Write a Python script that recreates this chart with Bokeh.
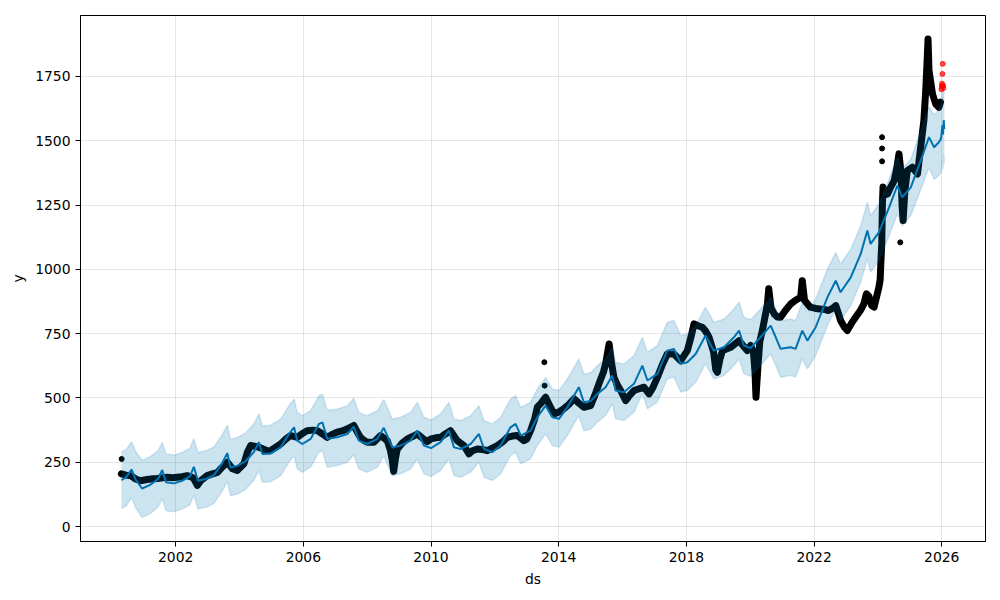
from bokeh.plotting import figure
from bokeh.models import FixedTicker, Range1d
from bokeh.embed import file_html
from bokeh.resources import INLINE

# ---- observed history (decimal year, value) ----
hist_ds = [2000.30, 2000.45, 2000.59, 2000.75, 2000.90, 2001.11, 2001.30, 2001.43, 2001.60, 2001.74,
           2001.90, 2002.05, 2002.20, 2002.36, 2002.55, 2002.68, 2002.80, 2002.99, 2003.15, 2003.31,
           2003.45, 2003.62, 2003.78, 2003.93, 2004.14, 2004.25, 2004.35, 2004.50, 2004.61, 2004.87,
           2004.97, 2005.15, 2005.29, 2005.45, 2005.60, 2005.81, 2005.95, 2006.12, 2006.30, 2006.44,
           2006.60, 2006.75, 2006.90, 2007.06, 2007.22, 2007.38, 2007.58, 2007.70, 2007.79, 2007.90,
           2008.00, 2008.21, 2008.42, 2008.63, 2008.72, 2008.79, 2008.83, 2008.88, 2008.94, 2009.10,
           2009.26, 2009.42, 2009.57, 2009.72, 2009.88, 2010.00, 2010.15, 2010.30, 2010.45, 2010.61,
           2010.82, 2011.03, 2011.19, 2011.30, 2011.45, 2011.60, 2011.76, 2011.92, 2012.08, 2012.25,
           2012.39, 2012.55, 2012.70, 2012.91, 2013.00, 2013.12, 2013.25, 2013.33, 2013.45, 2013.59,
           2013.72, 2013.85, 2014.00, 2014.16, 2014.32, 2014.48, 2014.63, 2014.79, 2015.00, 2015.13,
           2015.26, 2015.40, 2015.47, 2015.55, 2015.58, 2015.65, 2015.73, 2015.84, 2015.94, 2016.10,
           2016.22, 2016.36, 2016.50, 2016.67, 2016.83, 2016.95, 2017.09, 2017.25, 2017.40, 2017.61,
           2017.82, 2018.03, 2018.15, 2018.24, 2018.38, 2018.50, 2018.60, 2018.71, 2018.85, 2018.92,
           2018.97, 2019.05, 2019.13, 2019.25, 2019.39, 2019.52, 2019.65, 2019.80, 2019.91, 2020.01,
           2020.10, 2020.15, 2020.18, 2020.24, 2020.30, 2020.38, 2020.47, 2020.54, 2020.58, 2020.65,
           2020.75, 2020.85, 2020.95, 2021.10, 2021.27, 2021.42, 2021.58, 2021.63, 2021.70, 2021.88,
           2022.05, 2022.19, 2022.30, 2022.45, 2022.60, 2022.68, 2022.76, 2022.83, 2022.95, 2023.04,
           2023.17, 2023.30, 2023.45, 2023.56, 2023.64, 2023.72, 2023.80, 2023.88, 2023.97, 2024.03,
           2024.07, 2024.09, 2024.12, 2024.14, 2024.16, 2024.22, 2024.30, 2024.40, 2024.51, 2024.60,
           2024.66, 2024.72, 2024.76, 2024.79, 2024.84, 2024.92, 2025.08, 2025.24, 2025.34, 2025.44,
           2025.50, 2025.55, 2025.57, 2025.60, 2025.71, 2025.81, 2025.91, 2025.96]
hist_y = [205, 200, 198, 185, 178, 183, 186, 187, 190, 192,
          190, 192, 194, 198, 190, 160, 180, 198, 205, 211,
          230, 250, 225, 218, 244, 290, 315, 312, 308, 295,
          295, 310, 321, 340, 354, 347, 360, 373, 375, 373,
          360, 347, 358, 367, 372, 380, 393, 365, 347, 335,
          328, 328, 354, 334, 300, 257, 215, 260, 300, 325,
          341, 350, 360, 345, 330, 341, 345, 347, 360, 373,
          334, 315, 283, 295, 302, 300, 295, 305, 315, 330,
          347, 352, 354, 334, 340, 373, 420, 464, 480, 503,
          470, 438, 445, 458, 475, 497, 480, 464, 470, 510,
          555, 600, 633, 690, 710, 640, 580, 550, 529, 490,
          510, 529, 535, 542, 516, 540, 580, 630, 671, 671,
          645, 684, 740, 788, 780, 775, 760, 736, 680, 610,
          600, 650, 684, 690, 697, 710, 723, 700, 684, 704,
          680, 600, 503, 620, 720, 762, 820, 866, 925, 850,
          827, 815, 814, 840, 866, 880, 892, 956, 880, 853,
          848, 846, 845, 840, 850, 859, 830, 801, 775, 762,
          790, 814, 840, 866, 905, 895, 860, 853, 900, 930,
          960, 1020, 1100, 1250, 1320, 1290, 1293, 1320, 1345, 1400,
          1449, 1380, 1241, 1190, 1300, 1384, 1397, 1371, 1475, 1579,
          1700, 1838, 1896, 1773, 1682, 1643, 1630, 1650]

# isolated history points
out_ds = [2000.31, 2013.55, 2013.56, 2024.13, 2024.13, 2024.13, 2024.70]
out_y = [263, 639, 548, 1420, 1470, 1514, 1105]

# held-out actuals (red)
test_ds = [2025.99, 2026.00, 2026.01, 2026.02, 2026.03, 2026.04, 2026.05]
test_y = [1700, 1712, 1722, 1760, 1799, 1715, 1705]

# ---- forecast ----
fc_ds = [2000.30, 2000.45, 2000.62, 2000.75, 2000.95, 2001.20, 2001.45, 2001.58, 2001.70, 2001.95,
         2002.20, 2002.45, 2002.57, 2002.70, 2002.95, 2003.20, 2003.45, 2003.62, 2003.72, 2003.95,
         2004.20, 2004.45, 2004.61, 2004.72, 2004.97, 2005.29, 2005.55, 2005.71, 2005.81, 2005.97,
         2006.23, 2006.49, 2006.60, 2006.75, 2007.06, 2007.38, 2007.58, 2007.74, 2008.00, 2008.32,
         2008.52, 2008.79, 2009.05, 2009.36, 2009.57, 2009.78, 2010.00, 2010.30, 2010.56, 2010.72,
         2010.93, 2011.24, 2011.50, 2011.66, 2011.92, 2012.18, 2012.49, 2012.65, 2012.81, 2013.12,
         2013.33, 2013.59, 2013.80, 2014.01, 2014.27, 2014.63, 2014.79, 2015.00, 2015.21, 2015.47,
         2015.68, 2015.78, 2016.04, 2016.36, 2016.62, 2016.78, 2017.09, 2017.40, 2017.61, 2017.82,
         2018.03, 2018.29, 2018.60, 2018.86, 2019.18, 2019.49, 2019.65, 2019.80, 2020.01, 2020.32,
         2020.64, 2020.80, 2020.95, 2021.27, 2021.42, 2021.63, 2021.79, 2022.05, 2022.42, 2022.68,
         2022.83, 2023.15, 2023.46, 2023.67, 2023.77, 2024.03, 2024.35, 2024.61, 2024.76, 2025.03,
         2025.34, 2025.60, 2025.76, 2025.91, 2025.98, 2026.02, 2026.04, 2026.06, 2026.08]
yhat = [180, 192, 222, 182, 148, 162, 185, 220, 172, 168,
        178, 195, 232, 178, 185, 200, 245, 285, 230, 237,
        255, 290, 328, 282, 284, 308, 360, 386, 334, 321,
        341, 399, 405, 341, 347, 360, 389, 334, 321, 341,
        384, 308, 315, 334, 373, 315, 305, 328, 373, 308,
        302, 321, 360, 302, 289, 315, 386, 399, 354, 373,
        425, 470, 425, 419, 464, 542, 483, 488, 516, 542,
        587, 529, 522, 555, 626, 568, 594, 684, 691, 633,
        639, 671, 743, 684, 697, 736, 762, 704, 694, 736,
        781, 736, 691, 697, 691, 762, 723, 775, 892, 956,
        911, 969, 1060, 1151, 1099, 1144, 1241, 1326, 1280, 1319,
        1423, 1514, 1475, 1494, 1510, 1560, 1525, 1580, 1545]
yhat_lower = [70, 80, 112, 72, 35, 50, 75, 108, 62, 58,
              68, 85, 122, 68, 75, 90, 135, 175, 120, 127,
              145, 180, 218, 172, 174, 198, 250, 276, 224, 211,
              231, 289, 295, 231, 237, 250, 279, 224, 211, 231,
              274, 198, 205, 224, 263, 205, 195, 218, 263, 198,
              192, 211, 250, 192, 179, 205, 276, 289, 244, 263,
              315, 360, 315, 309, 354, 432, 373, 378, 406, 432,
              477, 419, 412, 445, 516, 458, 484, 574, 581, 523,
              529, 561, 633, 574, 587, 626, 652, 594, 584, 626,
              671, 626, 581, 587, 581, 652, 613, 665, 782, 846,
              801, 859, 950, 1041, 989, 1034, 1131, 1216, 1170, 1209,
              1310, 1395, 1350, 1365, 1378, 1425, 1390, 1445, 1410]
yhat_upper = [290, 300, 330, 292, 258, 272, 295, 328, 282, 278,
              288, 305, 342, 288, 295, 310, 355, 395, 340, 347,
              365, 400, 438, 392, 394, 418, 470, 496, 444, 431,
              451, 509, 515, 451, 457, 470, 499, 444, 431, 451,
              494, 418, 425, 444, 483, 425, 415, 438, 483, 418,
              412, 431, 470, 412, 399, 425, 496, 509, 464, 483,
              535, 580, 535, 529, 574, 652, 593, 598, 626, 652,
              697, 639, 632, 665, 736, 678, 704, 794, 801, 743,
              749, 781, 853, 794, 807, 846, 872, 814, 804, 846,
              891, 846, 801, 807, 801, 872, 833, 885, 1002, 1066,
              1021, 1079, 1170, 1261, 1209, 1254, 1351, 1436, 1390, 1429,
              1536, 1633, 1600, 1623, 1642, 1695, 1660, 1715, 1680]

x_ticks = [2002, 2006, 2010, 2014, 2018, 2022, 2026]
y_ticks = [0, 250, 500, 750, 1000, 1250, 1500, 1750]

FONT = "DejaVu Sans"

p = figure(width=1000, height=600, output_backend="svg", toolbar_location=None,
           x_range=Range1d(1999.02, 2027.37), y_range=Range1d(-58, 1987),
           min_border_left=80, min_border_right=15, min_border_top=15, min_border_bottom=59,
           x_axis_label="ds", y_axis_label="y")

p.background_fill_color = "white"
p.border_fill_color = "white"
p.outline_line_color = "black"
p.outline_line_width = 1

# history points
p.line(hist_ds, hist_y, line_color="black", line_width=7, line_join="round", line_cap="round")
p.scatter(hist_ds, hist_y, size=5, color="black")
p.scatter(out_ds, out_y, size=5, color="black")

# forecast line
p.line(fc_ds, yhat, line_color="#0072B2", line_width=2)

# uncertainty band
p.varea(x=fc_ds, y1=yhat_lower, y2=yhat_upper, fill_color="#0072B2", fill_alpha=0.2)
p.line(fc_ds, yhat_lower, line_color="#0072B2", line_alpha=0.15, line_width=1.5)
p.line(fc_ds, yhat_upper, line_color="#0072B2", line_alpha=0.15, line_width=1.5)

# held-out actuals
p.scatter(test_ds, test_y, size=5, color="red", alpha=0.7)

p.xaxis.ticker = FixedTicker(ticks=x_ticks)
p.yaxis.ticker = FixedTicker(ticks=y_ticks)

for ax in (p.xaxis, p.yaxis):
    ax.major_label_text_font = FONT
    ax.major_label_text_font_size = "13.9px"
    ax.major_label_text_color = "black"
    ax.axis_label_text_font = FONT
    ax.axis_label_text_font_size = "13.9px"
    ax.axis_label_text_font_style = "normal"
    ax.axis_label_text_color = "black"
    ax.axis_line_color = "black"
    ax.major_tick_line_color = "black"
    ax.major_tick_out = 5
    ax.major_tick_in = 0
    ax.minor_tick_line_color = None
    ax.major_label_standoff = 5
    ax.axis_label_standoff = 6

p.xgrid.ticker = FixedTicker(ticks=x_ticks)
p.ygrid.ticker = FixedTicker(ticks=y_ticks)
p.grid.grid_line_color = "gray"
p.grid.grid_line_alpha = 0.2
p.grid.grid_line_width = 1

open("out.html", "w").write(file_html(p, INLINE))
